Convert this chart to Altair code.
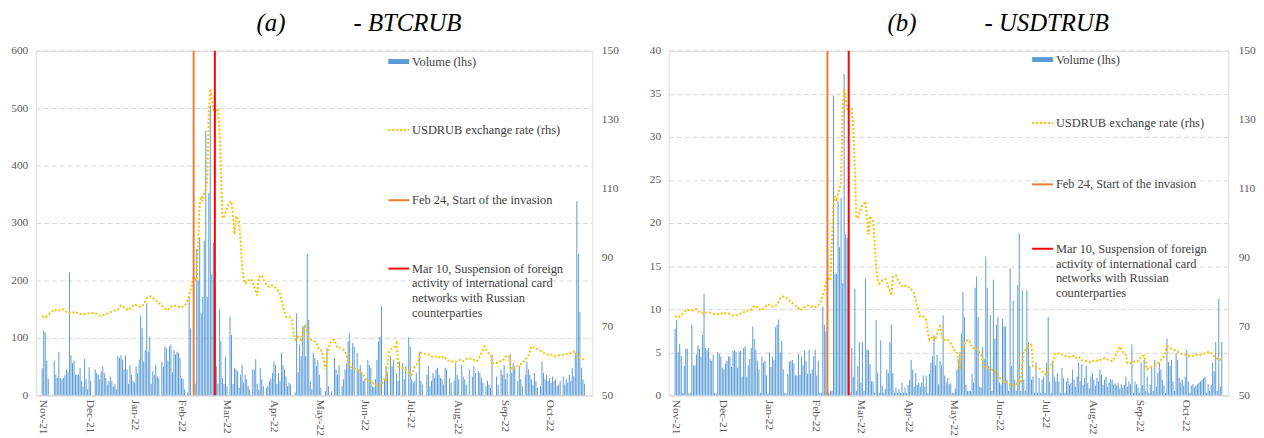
import altair as alt
import pandas as pd

# ---------------- data ----------------
START = "2021-11-16"
N_DAYS = 360
DATES = [d.strftime("%Y-%m-%d") for d in pd.date_range(START, periods=N_DAYS, freq="D")]

VOLUME_BTCRUB = [
    47,113,110,60,29,0,0,0,60,36,30,76,30,28,30,35,45,40,214,70,56,60,36,36,36,48,25,15,63,28,
    10,49,25,0,0,45,39,36,28,42,50,39,30,19,25,33,25,15,20,10,68,65,70,62,45,70,45,20,53,36,
    25,22,50,39,62,139,117,59,78,160,76,102,20,42,36,53,33,30,0,58,50,85,82,60,85,88,40,79,71,76,
    74,65,30,28,10,0,5,171,117,0,0,20,255,200,275,143,171,269,461,171,352,505,211,266,191,50,20,150,94,30,
    20,67,16,0,137,105,20,48,45,42,13,36,53,22,36,28,16,10,0,45,45,63,20,10,48,28,16,0,13,16,
    25,28,39,59,53,20,39,25,74,53,45,33,16,22,19,0,0,5,143,40,88,68,120,122,68,246,131,25,10,74,
    65,51,62,36,13,0,0,7,82,16,0,7,0,65,45,36,53,0,16,28,45,56,94,108,45,91,85,0,74,45,
    53,39,25,28,0,62,53,48,16,14,28,62,94,102,155,0,28,51,39,0,68,51,62,0,39,25,59,0,56,28,
    51,0,101,85,28,22,25,39,0,76,25,19,0,0,36,51,16,25,39,30,45,48,36,30,28,19,48,45,0,30,
    22,0,25,56,36,28,0,53,33,28,19,0,45,0,33,51,39,0,42,39,30,22,0,16,25,19,13,71,0,0,
    33,19,0,45,36,53,28,39,0,71,39,56,51,0,25,51,28,16,0,36,59,45,36,28,19,39,25,13,0,16,
    59,39,28,36,25,30,22,33,25,28,16,19,25,0,33,19,28,22,36,25,48,33,74,338,246,145,48,28,20,0,
]

VOLUME_USDTRUB = [
    7.7,8.7,5.0,6.0,4.6,0.3,3.4,5.4,5.4,0.2,0.3,8.2,3.5,3.5,4.7,5.8,5.4,4.5,7.0,11.8,5.5,5.2,5.5,4.2,4.0,4.7,0.3,0.2,5.0,4.8,
    4.5,3.2,3.0,3.7,4.0,4.5,4.5,3.3,5.2,5.2,5.0,3.2,5.1,5.2,2.2,5.5,5.7,2.2,3.5,4.2,5.5,8.0,6.5,5.3,4.0,3.0,0.3,4.5,3.8,4.0,
    2.3,0.2,5.0,3.3,4.5,4.1,7.9,8.2,8.8,5.0,6.3,3.0,0.3,0.2,2.5,3.9,4.0,4.1,3.7,2.3,2.3,4.8,2.4,4.5,3.5,5.2,4.0,2.5,5.3,2.5,
    3.0,4.5,5.3,2.3,4.0,0.3,0.3,10.3,8.2,7.4,1.0,0.3,0.5,0.5,34.8,14.1,14.1,22.5,17.2,22.9,13.0,37.3,18.7,18.3,0.0,0.3,5.5,2.2,12.4,0.5,
    3.4,6.2,1.5,6.2,0.5,13.5,5.3,5.3,3.6,1.6,1.6,0.3,8.7,2.6,0.3,6.4,1.1,0.3,0.7,3.0,2.6,6.2,8.2,2.6,0.3,0.9,0.3,0.7,0.3,1.5,
    0.3,0.9,0.3,1.2,1.8,4.1,3.0,1.0,2.6,1.2,1.5,1.0,1.5,2.3,1.0,2.3,0.3,2.5,3.8,4.5,7.0,3.5,4.7,1.3,4.0,3.5,9.3,2.3,1.5,2.0,
    1.3,1.4,0.3,0.3,0.8,3.0,4.2,5.0,7.2,12.0,9.1,1.2,0.5,0.5,0.5,2.5,1.5,12.5,13.8,9.1,1.0,0.9,5.6,4.2,16.1,12.5,3.4,9.3,0.5,13.4,
    6.6,8.2,9.1,1.5,1.3,8.9,8.0,8.0,1.8,0.5,14.7,3.4,11.0,1.8,0.5,12.8,18.8,0.5,12.2,1.8,0.5,12.2,6.2,3.4,1.8,2.2,0.3,3.8,0.3,2.0,
    0.3,1.8,2.2,0.3,3.8,9.1,1.6,0.3,3.8,2.2,1.6,2.6,1.6,0.3,3.2,2.0,0.3,1.6,2.0,1.2,1.5,3.0,1.8,1.0,2.2,3.8,1.6,3.6,1.2,2.0,
    3.4,1.4,0.8,2.2,2.6,1.8,1.1,2.0,1.6,3.0,2.4,1.2,1.8,2.2,1.0,1.5,1.9,1.8,1.2,1.4,1.1,1.5,0.8,1.3,0.9,1.2,2.2,1.0,1.6,1.3,
    5.9,0.3,1.6,1.3,0.9,0.3,3.8,1.2,4.1,0.5,2.2,0.3,1.2,3.2,0.5,4.1,1.0,2.6,3.8,3.0,1.8,1.1,0.3,6.6,3.9,3.4,4.1,1.6,0.5,4.9,
    4.1,2.0,1.5,1.8,1.1,2.2,5.3,1.6,0.3,1.1,1.3,0.9,1.1,1.3,1.5,1.6,1.8,2.0,2.2,0.3,1.3,0.5,1.2,3.8,2.8,6.2,0.5,11.2,1.0,6.2,
]

USDRUB = [
    73.0,72.8,72.6,72.9,73.3,73.8,74.2,74.6,74.9,74.7,74.5,74.6,74.8,74.9,75.0,74.6,74.2,73.9,73.8,73.8,74.0,74.1,74.2,74.0,73.8,73.6,73.6,73.5,73.6,73.6,
    73.7,73.8,73.8,73.9,73.8,73.8,73.6,73.3,73.1,73.2,73.3,73.5,73.6,73.7,73.8,74.1,74.3,74.5,74.6,74.8,74.9,75.5,76.1,75.8,75.5,75.1,74.9,74.7,75.2,75.7,
    76.0,76.4,76.2,75.9,75.8,75.7,76.0,76.4,77.2,78.1,78.5,78.7,78.7,78.3,77.8,77.5,77.1,76.8,76.4,76.0,75.7,75.2,74.7,74.9,75.2,75.6,75.9,76.1,76.0,75.9,
    75.7,75.5,75.6,75.7,76.1,76.6,77.5,79.0,80.5,82.5,84.3,84.0,83.3,94.8,105.4,107.8,106.3,108.7,109.7,112.0,133.1,138.9,136.0,133.0,132.2,132.8,133.1,127.4,115.9,101.5,
    101.5,103.0,104.2,105.4,105.8,106.3,101.5,96.7,102.0,101.2,100.6,94.8,87.2,84.0,82.4,82.8,83.3,83.6,83.8,82.6,81.4,80.2,79.0,84.3,84.6,84.8,83.8,82.9,82.2,81.8,
    81.4,81.7,81.9,81.5,81.2,80.9,80.2,79.5,77.6,75.7,74.2,72.8,72.8,72.8,72.3,71.8,68.0,66.1,66.5,67.0,66.5,66.1,67.8,69.4,70.1,68.0,66.1,66.1,66.1,66.1,
    65.6,65.1,64.2,63.2,63.0,62.7,60.0,57.5,61.3,63.2,65.1,65.6,66.0,66.1,64.9,63.7,63.7,63.7,63.4,63.2,62.5,61.8,60.1,58.4,58.2,58.0,57.8,57.7,57.5,57.2,
    57.0,56.5,56.0,55.3,54.6,54.3,54.1,53.8,53.6,53.4,53.2,52.9,52.8,52.7,53.2,53.9,54.6,54.1,58.4,62.7,63.2,63.7,64.0,64.2,65.1,58.4,58.2,58.1,58.0,57.7,
    57.5,57.0,56.5,56.2,56.0,57.2,58.4,58.9,59.4,60.8,62.3,62.2,62.1,62.0,61.9,61.8,61.5,61.3,61.2,61.1,61.3,61.5,61.1,60.8,61.0,61.3,60.8,60.3,60.1,60.0,
    59.9,59.8,59.6,59.7,59.9,60.1,60.3,60.1,59.9,60.2,60.5,60.6,60.8,60.6,60.4,60.3,60.1,59.9,60.5,61.4,62.3,63.2,64.2,63.4,62.7,62.2,61.8,59.4,59.4,59.4,
    59.4,59.6,59.9,59.9,59.9,60.6,61.3,61.4,61.5,59.4,57.5,57.8,58.0,58.3,58.6,58.9,59.1,59.4,59.8,60.3,60.8,61.3,62.7,64.2,64.0,63.7,63.5,63.4,63.2,62.9,
    62.7,62.4,62.1,62.0,61.8,61.8,61.8,61.6,61.3,61.4,61.5,61.6,61.7,61.7,61.8,61.8,62.0,62.1,62.2,62.3,62.5,62.7,62.3,61.8,61.3,60.8,60.6,60.5,60.4,60.3,
]

TICK_DATES = ["2021-11-16", "2021-12-17", "2022-01-16", "2022-02-16", "2022-03-18", "2022-04-18",
              "2022-05-18", "2022-06-17", "2022-07-17", "2022-08-17", "2022-09-17", "2022-10-17"]
DOMAIN_DATES = ["2021-11-15", "2022-11-11"]
EVENT_DATES = ["2022-02-24", "2022-03-10"]
EVENT_COLORS = ["#ED7D31", "#FF0000"]

RATE_TICKS = [50, 70, 90, 110, 130, 150]
BTC_TICKS = [0, 100, 200, 300, 400, 500, 600]
USDT_TICKS = [0, 5, 10, 15, 20, 25, 30, 35, 40]

LEGEND_VOLUME = "Volume (lhs)"
LEGEND_RATE = "USDRUB exchange rate (rhs)"
LEGEND_FEB = "Feb 24, Start of the invasion"
LEGEND_MAR = ["Mar 10, Suspension of foreign", "activity of international card",
              "networks with Russian", "counterparties"]

TITLE_A = ("(a)", "- BTCRUB")
TITLE_B = ("(b)", "- USDTRUB")

assert len(VOLUME_BTCRUB) == N_DAYS and len(VOLUME_USDTRUB) == N_DAYS and len(USDRUB) == N_DAYS

# ---------------- styling ----------------
FONT = "Liberation Serif"
BLUE = "#5B9BD5"
GOLD = "#FFC000"
TEXT = "#404040"
AXIS_TEXT = "#595959"
GRID = "#D9D9D9"
PLOT_H = 348


def dt(s):
    y, m, d = (int(p) for p in s.split("-"))
    return alt.DateTime(year=y, month=m, date=d, utc=True)


def one_row():
    return pd.DataFrame({"k": [0]})


def legend_layers(sx, ys, line_h=15):
    """sx: swatch left (px in plot), ys: centre y of the 4 entries (px in plot)."""
    tx = sx + 24
    layers = []
    layers.append(alt.Chart(one_row()).mark_rect(color=BLUE).encode(
        x=alt.value(sx), x2=alt.value(sx + 21), y=alt.value(ys[0] - 2.5), y2=alt.value(ys[0] + 2.5)))
    layers.append(alt.Chart(one_row()).mark_rule(color=GOLD, strokeWidth=2, strokeDash=[2, 2]).encode(
        x=alt.value(sx), x2=alt.value(sx + 21), y=alt.value(ys[1])))
    layers.append(alt.Chart(one_row()).mark_rule(color=EVENT_COLORS[0], strokeWidth=2).encode(
        x=alt.value(sx), x2=alt.value(sx + 21), y=alt.value(ys[2])))
    layers.append(alt.Chart(one_row()).mark_rule(color=EVENT_COLORS[1], strokeWidth=2).encode(
        x=alt.value(sx), x2=alt.value(sx + 21), y=alt.value(ys[3])))
    for label, yc in zip([LEGEND_VOLUME, LEGEND_RATE, LEGEND_FEB, LEGEND_MAR], ys):
        layers.append(alt.Chart(one_row()).mark_text(
            align="left", baseline="alphabetic", font=FONT, fontSize=12.5, color=TEXT, lineHeight=line_h
        ).encode(x=alt.value(tx), y=alt.value(yc + 4), text=alt.value(label)))
    return layers


def make_panel(volume, vmax, vticks, title, width, title_dx, sx, ys, rpad, rext):
    df = pd.DataFrame({"date": DATES, "volume": volume, "rate": USDRUB})
    ev = pd.DataFrame({"date": EVENT_DATES, "color": EVENT_COLORS})

    x = alt.X("date:T",
              scale=alt.Scale(type="utc", domain=[dt(DOMAIN_DATES[0]), dt(DOMAIN_DATES[1])]),
              axis=alt.Axis(values=[dt(s) for s in TICK_DATES], format="%b-%y", labelAngle=90,
                            labelFont=FONT, labelFontSize=11.5, labelColor=AXIS_TEXT, labelPadding=4,
                            labelOverlap=False, labelFlush=False, ticks=False, grid=False,
                            domain=True, domainColor=GRID, title=None))

    bars = alt.Chart(df).mark_bar(color=BLUE, width=1.0).encode(
        x=x,
        y=alt.Y("volume:Q", scale=alt.Scale(domain=[0, vmax], nice=False),
                axis=alt.Axis(orient="left", values=vticks, grid=True, gridColor=GRID, gridDash=[5, 3],
                              domain=False, ticks=False, labelFont=FONT, labelFontSize=11.5,
                              labelColor=AXIS_TEXT, labelPadding=8, labelFlush=False,
                              minExtent=25, maxExtent=25, title=None)))

    line = alt.Chart(df).mark_line(color=GOLD, strokeWidth=2, strokeDash=[2, 2]).encode(
        x=alt.X("date:T"),
        y=alt.Y("rate:Q", scale=alt.Scale(domain=[50, 150], nice=False),
                axis=alt.Axis(orient="right", values=RATE_TICKS, grid=False, domain=False, ticks=False,
                              labelFont=FONT, labelFontSize=11.5, labelColor=AXIS_TEXT,
                              labelPadding=rpad, labelFlush=False, minExtent=rext, maxExtent=rext,
                              title=None)))

    rules = alt.Chart(ev).mark_rule(strokeWidth=2).encode(
        x=alt.X("date:T"), color=alt.Color("color:N", scale=None))

    layers = [bars, line, rules] + legend_layers(sx, ys)
    title_text = title[0] + "\u00a0" * 11 + title[1]
    return alt.layer(*layers).resolve_scale(y="independent").properties(
        width=width, height=PLOT_H,
        title=alt.TitleParams(text=title_text, font=FONT, fontSize=25, fontStyle="italic",
                              fontWeight="normal", color="black", anchor="start", frame="group",
                              dx=title_dx, offset=9))


panel_a = make_panel(VOLUME_BTCRUB, 600, BTC_TICKS, TITLE_A, 562, 223, 356, [11, 80, 151, 220], 9, 30)
panel_b = make_panel(VOLUME_USDTRUB, 40, USDT_TICKS, TITLE_B, 565, 221, 367, [9, 73, 135, 200], 10, 22)

chart = alt.hconcat(panel_a, panel_b, spacing=20).properties(
    padding={"left": 2, "top": 0, "right": 0, "bottom": 0}
).configure_view(stroke=None).configure(background="white")

chart.save("out.html", embed_options={"renderer": "svg", "actions": False})
